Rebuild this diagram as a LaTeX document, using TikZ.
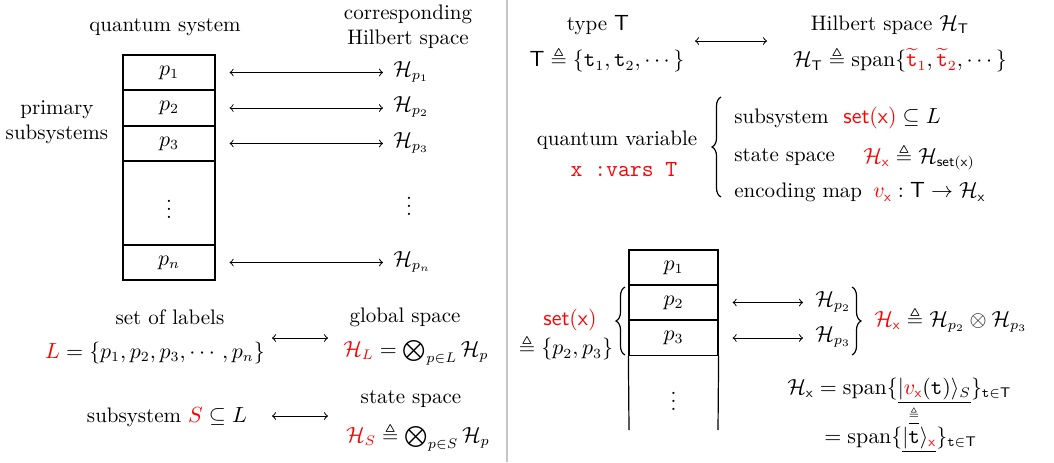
\documentclass[tikz,border=0pt]{standalone}
\usepackage{amsmath,amssymb}
\usetikzlibrary{decorations.pathreplacing}
\newcommand{\qsetx}{\mathsf{set}(\mathsf{x})}
\newcommand{\red}[1]{{\color{red}#1}}
\begin{document}
\begin{tikzpicture}[x=0.5pt,y=-0.5pt,
  font=\fontsize{10.5}{12.5}\selectfont,
  cell/.style={draw, line width=0.6pt, minimum width=46pt, minimum height=17.5pt, inner sep=0pt},
  cellb/.style={draw, line width=0.6pt, minimum width=44.5pt, minimum height=17.5pt, inner sep=0pt},
  lbl/.style={inner sep=0pt},
  arr/.style={<->, line width=0.5pt},
  brc/.style={decorate, decoration={brace, amplitude=4.5pt}, line width=0.6pt}]
\useasboundingbox (0,0) rectangle (1054,462);
% divider
\draw[gray!45, line width=0.6pt] (507,0) -- (507,462);

% ---------- left panel ----------
\node[lbl] (qs) at (165,27) {quantum system};
\node[lbl, align=center] (chs) at (408,27) {corresponding\\Hilbert space};
\node[lbl, align=center] (prim) at (57,122) {primary\\subsystems};

\node[cell] (p1) at (169,72.5) {$p_1$};
\node[cell] (p2) at (169,108) {$p_2$};
\node[cell] (p3) at (169,143.5) {$p_3$};
\node[cell, minimum height=42pt] (pd) at (169,203) {$\vdots$};
\node[cell] (pn) at (169,262.5) {$p_n$};

\node[lbl, anchor=west] (h1) at (393,72) {$\mathcal{H}_{p_1}$};
\node[lbl, anchor=west] (h2) at (393,107) {$\mathcal{H}_{p_2}$};
\node[lbl, anchor=west] (h3) at (393,143) {$\mathcal{H}_{p_3}$};
\node[lbl] (hd) at (409,200) {$\vdots$};
\node[lbl, anchor=west] (hn) at (393,262) {$\mathcal{H}_{p_n}$};

\draw[arr, shorten <=7pt, shorten >=5pt] (p1.east) -- (p1.east -| h1.west);
\draw[arr, shorten <=7pt, shorten >=5pt] (p2.east) -- (p2.east -| h2.west);
\draw[arr, shorten <=7pt, shorten >=5pt] (p3.east) -- (p3.east -| h3.west);
\draw[arr, shorten <=7pt, shorten >=5pt] (pn.east) -- (pn.east -| hn.west);

\node[lbl] (sol) at (170,317) {set of labels};
\node[lbl] (lset) at (155,353) {$\red{L} = \{p_1, p_2, p_3, \cdots, p_n\}$};
\node[lbl] (gs) at (405,317) {global space};
\node[lbl] (hl) at (416,353) {$\red{\mathcal{H}_L} = \bigotimes_{p\in L}\mathcal{H}_p$};
\coordinate (a1) at (272,338);
\coordinate (b1) at (328,338);
\draw[arr] (a1) -- (b1);

\node[lbl] (subs) at (167,417) {subsystem $\red{S} \subseteq L$};
\node[lbl] (ss) at (411,399) {state space};
\node[lbl] (hs) at (418,437) {$\red{\mathcal{H}_S} \triangleq \bigotimes_{p\in S}\mathcal{H}_p$};
\coordinate (a2) at (272,416);
\coordinate (b2) at (328,416);
\draw[arr] (a2) -- (b2);

% ---------- right panel top ----------
\node[lbl] (ty) at (598,25) {type $\mathsf{T}$};
\node[lbl] (tdef) at (607,60) {$\mathsf{T} \triangleq \{\mathtt{t}_1, \mathtt{t}_2, \cdots\}$};
\node[lbl] (hsp) at (890,25) {Hilbert space $\mathcal{H}_{\mathsf{T}}$};
\node[lbl] (htdef) at (900,60) {$\mathcal{H}_{\mathsf{T}} \triangleq \mathrm{span}\{\red{\widetilde{\mathtt{t}}_1}, \red{\widetilde{\mathtt{t}}_2}, \cdots\}$};
\coordinate (a3) at (695,41);
\coordinate (b3) at (767,41);
\draw[arr] (a3) -- (b3);

\node[lbl] (qv) at (617,140) {quantum variable};
\node[lbl] (xv) at (624,170) {\red{\fontsize{11.5}{13}\selectfont\texttt{x :vars T}}};
\coordinate (br1a) at (721,197);
\coordinate (br1b) at (721,97);
\draw[brc] (br1a) -- (br1b);
\node[lbl, anchor=west] (i1) at (734,118) {subsystem};
\node[lbl, anchor=west] (i1m) at (843,118) {$\red{\qsetx} \subseteq L$};
\node[lbl, anchor=west] (i2) at (734,157) {state space};
\node[lbl, anchor=west] (i2m) at (863,157) {$\red{\mathcal{H}_{\mathsf{x}}} \triangleq \mathcal{H}_{\qsetx}$};
\node[lbl, anchor=west] (i3) at (734,192) {encoding map};
\node[lbl, anchor=west] (i3m) at (873,192) {$\red{v_{\mathsf{x}}} : \mathsf{T} \rightarrow \mathcal{H}_{\mathsf{x}}$};

% ---------- right panel bottom ----------
\node[cellb] (r1) at (673.5,267.5) {$p_1$};
\node[cellb] (r2) at (673.5,302.5) {$p_2$};
\node[cellb] (r3) at (673.5,338) {$p_3$};
\coordinate (r3bl) at (629,430);
\coordinate (r3br) at (718,430);
\draw[line width=0.6pt] (r3.south west) -- (r3bl);
\draw[line width=0.6pt] (r3.south east) -- (r3br);
\node[lbl] (rd) at (673.5,395) {$\vdots$};

\node[lbl, anchor=west] (hp2) at (815,302) {$\mathcal{H}_{p_2}$};
\node[lbl, anchor=west] (hp3) at (815,337) {$\mathcal{H}_{p_3}$};
\draw[arr, shorten <=7pt, shorten >=6pt] (r2.east) -- (r2.east -| hp2.west);
\draw[arr, shorten <=7pt, shorten >=6pt] (r3.east) -- (r3.east -| hp3.west);

\coordinate (br2a) at (852,287);
\coordinate (br2b) at (852,355);
\draw[brc] (br2a) -- (br2b);
\node[lbl, anchor=west] (hx) at (874,320) {$\red{\mathcal{H}_{\mathsf{x}}} \triangleq \mathcal{H}_{p_2} \otimes \mathcal{H}_{p_3}$};

\coordinate (br3a) at (625,355);
\coordinate (br3b) at (625,287);
\draw[brc] (br3a) -- (br3b);
\node[lbl] (setx) at (570,320) {$\red{\qsetx}$};
\node[lbl] (setd) at (566,348) {$\triangleq \{p_2, p_3\}$};

\node[lbl, anchor=west] (f1) at (787,391) {$\mathcal{H}_{\mathsf{x}} = \mathrm{span}\{\underline{|\red{v_{\mathsf{x}}}(\mathtt{t})\rangle_S}\}_{\mathtt{t}\in\mathsf{T}}$};
\node[lbl] (feq) at (914,416) {$\underline{\scriptscriptstyle\triangleq}$};
\node[lbl, anchor=west] (f2) at (824,440) {$= \mathrm{span}\{\underline{|\mathtt{t}\rangle_{\red{\mathsf{x}}}}\}_{\mathtt{t}\in\mathsf{T}}$};
\end{tikzpicture}
\end{document}
